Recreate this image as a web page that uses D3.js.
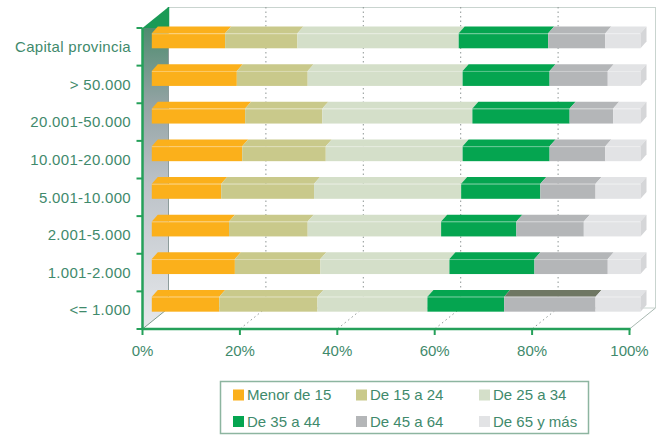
<!DOCTYPE html>
<html><head><meta charset="utf-8">
<script src="https://cdn.jsdelivr.net/npm/d3@7"></script>
<style>body{margin:0;background:#fff}svg{display:block}</style>
</head><body><svg id="c" width="658" height="435"></svg>
<script>
const categories = ["Capital provincia", "> 50.000", "20.001-50.000", "10.001-20.000", "5.001-10.000", "2.001-5.000", "1.001-2.000", "<= 1.000"];
const seriesNames = ["Menor de 15", "De 15 a 24", "De 25 a 34", "De 35 a 44", "De 45 a 64", "De 65 y más"];
const menor15  = [15.0, 17.4, 19.1, 18.5, 14.2, 15.8, 17.0, 13.8];
const de15a24  = [14.8, 14.5, 15.8, 17.1, 19.0, 16.1, 17.5, 20.1];
const de25a34  = [33.0, 31.7, 30.7, 28.0, 30.1, 27.3, 26.4, 22.5];
const de35a44  = [18.3, 17.8, 19.9, 17.8, 16.2, 15.4, 17.4, 15.7];
const de45a64  = [11.7, 11.9,  8.9, 11.4, 11.3, 13.8, 15.0, 18.7];
const de65ymas = [ 7.2,  6.7,  5.6,  7.2,  9.2, 11.6,  6.7,  9.2];
const tickValues = [0, 20, 40, 60, 80, 100];
const tickLabels = ["0%", "20%", "40%", "60%", "80%", "100%"];

const colors = ["#fbb01b", "#c9c98b", "#d4dfc9", "#05a550", "#b4b6b8", "#e2e3e5"];
const textColor = "#3f8a6c";
const axisGreen = "#25a05a";
const FONT = "'Liberation Sans', Arial, sans-serif";

const table = categories.map((c, i) => {
  const o = {cat: c};
  [menor15, de15a24, de25a34, de35a44, de45a64, de65ymas].forEach((arr, k) => o[seriesNames[k]] = arr[i]);
  return o;
});
const stacked = d3.stack().keys(seriesNames)(table);

const svg = d3.select("#c");
const defs = svg.append("defs");

// geometry
const DX = 26, DY = -21;
const yTop = 28, yBottom = 329;
const xFront = d3.scaleLinear().domain([0, 100]).range([142.5, 629.5]);
const xBack = v => xFront(v) + DX;
const xBar = d3.scaleLinear().domain([0, 100]).range([151.8, 640.5]);
const yBand = d3.scaleBand().domain(categories).range([yTop, yBottom]);
const barOff = 5.3, barH = 15, tdx = 6, tdy = -6.8;

// left wall gradient
const g = defs.append("linearGradient").attr("id", "wall")
  .attr("gradientUnits", "userSpaceOnUse").attr("x1", 0).attr("x2", 0).attr("y1", 7).attr("y2", 329);
[[0, "#1a9a56"], [0.064, "#1a9a56"], [0.066, "#4f8c70"], [0.3, "#93a3a4"], [0.55, "#bcc2c8"], [1, "#e6e8eb"]]
  .forEach(([o, c]) => g.append("stop").attr("offset", o).attr("stop-color", c));

svg.append("path")
  .attr("d", `M${xFront(0)},${yTop} L${xBack(0)},${yTop + DY} L${xBack(0)},${yBottom + DY} L${xFront(0)},${yBottom} Z`)
  .attr("fill", "url(#wall)");

// back wall frame
const frame = svg.append("g").attr("fill", "none").attr("stroke", "#c9d4cf").attr("stroke-width", 1);
frame.append("line").attr("x1", xBack(0)).attr("x2", xBack(100)).attr("y1", yTop + DY + 0.5).attr("y2", yTop + DY + 0.5);
frame.append("line").attr("x1", xBack(100)).attr("x2", xBack(100)).attr("y1", yTop + DY).attr("y2", yBottom + DY);
frame.append("line").attr("x1", xBack(0)).attr("x2", xBack(100)).attr("y1", yBottom + DY).attr("y2", yBottom + DY);
frame.append("line").attr("x1", xFront(100)).attr("x2", xBack(100)).attr("y1", yBottom).attr("y2", yBottom + DY).attr("stroke", "#a9b9b2");
svg.append("line").attr("x1", xFront(0)).attr("x2", xBack(0)).attr("y1", yBottom).attr("y2", yBottom + DY)
  .attr("stroke", "#7f9a8c").attr("stroke-width", 1);
svg.append("line").attr("x1", xBack(0)).attr("x2", xBack(0)).attr("y1", yTop).attr("y2", yBottom + DY)
  .attr("stroke", "#8d9c9b").attr("stroke-width", 1);
svg.append("line").attr("x1", xBack(0)).attr("x2", xBack(0)).attr("y1", yTop + DY).attr("y2", yTop)
  .attr("stroke", "#1a9a56").attr("stroke-width", 1.5);

// dotted grid
const grid = svg.append("g").attr("stroke", "#8e9694").attr("stroke-width", 1).attr("stroke-dasharray", "1.5,3");
tickValues.filter(v => v > 0 && v < 100).forEach(v => {
  grid.append("line").attr("x1", xBack(v)).attr("x2", xBack(v)).attr("y1", yTop + DY).attr("y2", yBottom + DY);
  grid.append("line").attr("x1", xBack(v)).attr("x2", xFront(v)).attr("y1", yBottom + DY).attr("y2", yBottom);
});

// bars
const bars = svg.append("g");
stacked.forEach((layer, k) => {
  layer.forEach((d, i) => {
    const cat = categories[i];
    const y0 = yBand(cat) + barOff;
    const x0 = xBar(d[0]), x1 = xBar(d[1]);
    let topColor = colors[k];
    if (cat === "<= 1.000" && seriesNames[k] === "De 45 a 64") topColor = "#6f7763";
    bars.append("path")
      .attr("d", `M${x0},${y0} L${x0 + tdx},${y0 + tdy} L${x1 + tdx},${y0 + tdy} L${x1},${y0} Z`)
      .attr("fill", topColor);
    bars.append("rect").attr("x", x0).attr("y", y0).attr("width", Math.max(0, x1 - x0)).attr("height", barH)
      .attr("fill", colors[k]);
    if (k === seriesNames.length - 1) {
      bars.append("path")
        .attr("d", `M${x1},${y0} L${x1 + tdx},${y0 + tdy} L${x1 + tdx},${y0 + tdy + barH} L${x1},${y0 + barH} Z`)
        .attr("fill", "#d5d6d8");
    }
  });
});
// highlight edge between top and front faces
categories.forEach(cat => {
  const y0 = yBand(cat) + barOff;
  bars.append("line").attr("x1", xBar(0)).attr("x2", xBar(100)).attr("y1", y0 + 0.5).attr("y2", y0 + 0.5)
    .attr("stroke", "#ffffff").attr("stroke-opacity", 0.35).attr("stroke-width", 1);
});

// axes
const ax = svg.append("g").attr("stroke", axisGreen).attr("stroke-width", 2.5).attr("fill", "none");
ax.append("line").attr("x1", xFront(0)).attr("x2", xFront(0)).attr("y1", yTop).attr("y2", yBottom);
ax.append("line").attr("x1", xFront(0) - 1).attr("x2", xFront(100) + 1).attr("y1", yBottom).attr("y2", yBottom);
tickValues.forEach(v => {
  ax.append("line").attr("x1", xFront(v)).attr("x2", xFront(v)).attr("y1", yBottom).attr("y2", yBottom + 6).attr("stroke-width", 2);
});
const bounds = categories.map(c => yBand(c)).concat([yBottom]);
bounds.forEach(y => {
  ax.append("line").attr("x1", xFront(0) - 6).attr("x2", xFront(0)).attr("y1", y).attr("y2", y).attr("stroke-width", 2);
});

// category labels
svg.append("g").selectAll("text").data(categories).join("text")
  .attr("x", 131).attr("y", c => yBand(c) + yBand.bandwidth() / 2)
  .attr("dy", "0.35em").attr("text-anchor", "end")
  .attr("font-family", FONT).attr("font-size", 15).attr("letter-spacing", 0.3)
  .attr("fill", textColor).text(c => c);

// x tick labels
svg.append("g").selectAll("text").data(tickValues).join("text")
  .attr("x", v => xFront(v)).attr("y", 356).attr("text-anchor", "middle")
  .attr("font-family", FONT).attr("font-size", 15).attr("fill", textColor)
  .text((v, i) => tickLabels[i]);

// legend
const lg = svg.append("g");
lg.append("rect").attr("x", 220.5).attr("y", 381.5).attr("width", 368).attr("height", 52)
  .attr("fill", "#fff").attr("stroke", "#8db5a0").attr("stroke-width", 1.5);
const colX = [233, 356, 479];
const rowY = [395, 421.5];
seriesNames.forEach((s, k) => {
  const cx = colX[k % 3], cy = rowY[Math.floor(k / 3)];
  lg.append("rect").attr("x", cx).attr("y", cy - 5.5).attr("width", 11).attr("height", 11).attr("fill", colors[k]);
  lg.append("text").attr("x", cx + 14).attr("y", cy).attr("dy", "0.35em")
    .attr("font-family", FONT).attr("font-size", 15).attr("fill", textColor).text(s);
});
</script>
</body></html>
